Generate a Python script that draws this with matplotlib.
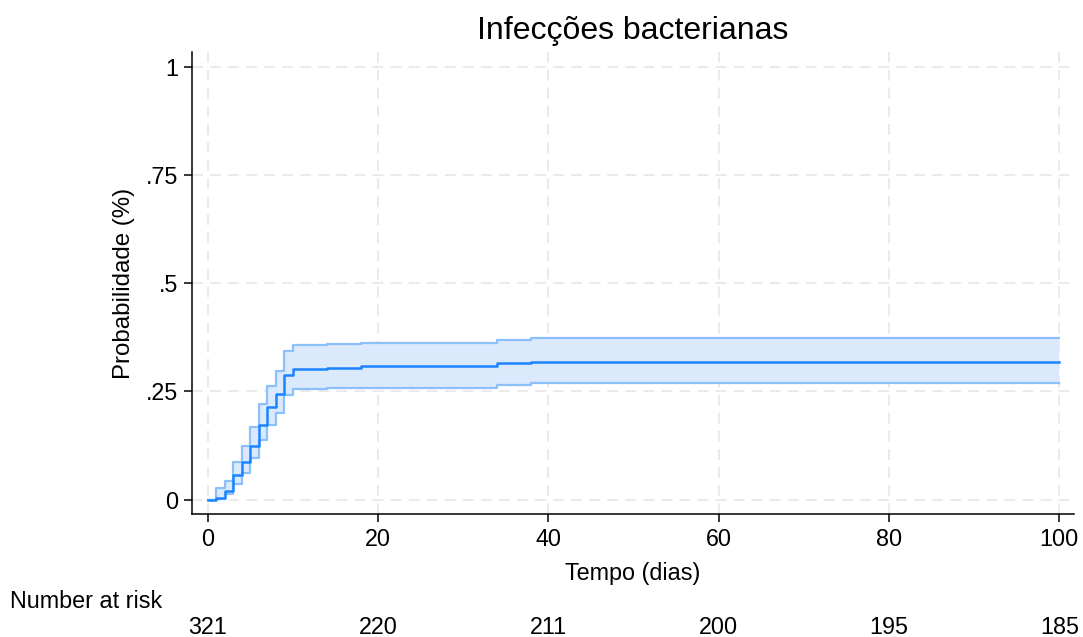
import matplotlib
matplotlib.use("Agg")
import matplotlib.pyplot as plt
import matplotlib.transforms as mtransforms

plt.rcParams['font.family'] = ['Liberation Sans', 'DejaVu Sans']

# Data
times = [0, 1, 2, 3, 4, 5, 6, 7, 8, 9, 10, 14, 18, 34, 38, 100]
estimate = [0, 0.004, 0.019, 0.056, 0.086, 0.125, 0.173, 0.214, 0.245, 0.288,
            0.302, 0.305, 0.309, 0.315, 0.319, 0.319]
upper_ci = [0, 0.027, 0.044, 0.087, 0.123, 0.168, 0.220, 0.263, 0.297, 0.343,
            0.357, 0.360, 0.363, 0.369, 0.373, 0.373]
lower_ci = [0, 0.0005, 0.013, 0.036, 0.061, 0.096, 0.137, 0.173, 0.200, 0.241,
            0.255, 0.257, 0.259, 0.265, 0.270, 0.270]

x_ticks = [0, 20, 40, 60, 80, 100]
y_ticks = [0, 0.25, 0.5, 0.75, 1]
y_tick_labels = ["0", ".25", ".5", ".75", "1"]
risk_times = [0, 20, 40, 60, 80, 100]
number_at_risk = [321, 220, 211, 200, 195, 185]

title = "Infecções bacterianas"
xlabel = "Tempo (dias)"
ylabel = "Probabilidade (%)"

line_color = "#1a85ff"
ci_color = "#8cc0fa"
fill_color = "#dbe9fc"

fs = 16.8

fig = plt.figure(figsize=(10.83, 6.37), dpi=100)
ax = fig.add_axes([0.1776, 0.1931, 0.9917 - 0.1776, 0.9184 - 0.1931])

ax.fill_between(times, lower_ci, upper_ci, step='post', color=fill_color, linewidth=0, zorder=2)
ax.step(times, upper_ci, where='post', color=ci_color, linewidth=1.6, zorder=3)
ax.step(times, lower_ci, where='post', color=ci_color, linewidth=1.6, zorder=3)
ax.step(times, estimate, where='post', color=line_color, linewidth=1.8, zorder=4)

ax.set_xlim(-1.81, 101.73)
ax.set_ylim(-0.033, 1.034)

ax.set_xticks(x_ticks)
ax.set_yticks(y_ticks)
ax.set_yticklabels(y_tick_labels)
ax.tick_params(axis='both', labelsize=fs, length=6, width=1.1, colors='black', pad=4)

ax.grid(True, color='#e8e8e8', linestyle=(0, (6, 4)), linewidth=1.3, zorder=0)
ax.set_axisbelow(True)

for s in ['top', 'right']:
    ax.spines[s].set_visible(False)
for s in ['left', 'bottom']:
    ax.spines[s].set_linewidth(1.1)

ax.set_title(title, fontsize=23, pad=9)
ax.set_xlabel(xlabel, fontsize=fs, labelpad=8)
ax.set_ylabel(ylabel, fontsize=17.3, labelpad=8)

# Number at risk table
fig.text(10 / 1083, 1 - 601 / 637, "Number at risk", fontsize=fs, ha='left', va='center')
trans = mtransforms.blended_transform_factory(ax.transData, fig.transFigure)
for t, n in zip(risk_times, number_at_risk):
    fig.text(t, 1 - 627 / 637, str(n), fontsize=fs, ha='center', va='center', transform=trans)

fig.savefig("out.png", dpi=100)
